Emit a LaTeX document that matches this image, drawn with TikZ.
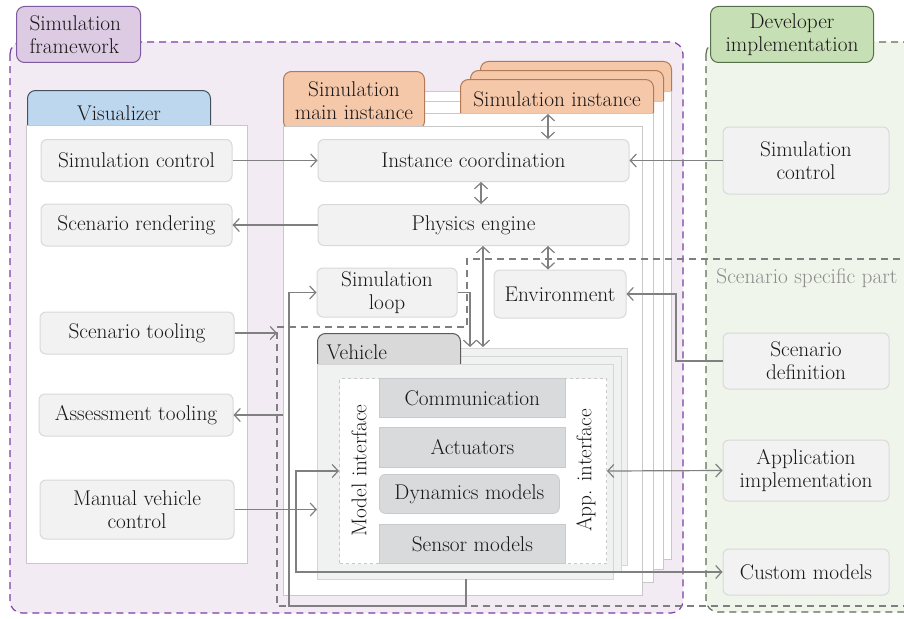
\documentclass[tikz,border=0pt]{standalone}
\usetikzlibrary{arrows.meta}
\definecolor{fwbg}{HTML}{F2EBF4}
\definecolor{fwline}{HTML}{7B3FA2}
\definecolor{fwtab}{HTML}{DCCBE3}
\definecolor{fwtabline}{HTML}{7E5A9E}
\definecolor{devbg}{HTML}{EFF5EA}
\definecolor{devline}{HTML}{5F6D52}
\definecolor{devtab}{HTML}{C6DFB4}
\definecolor{devtabline}{HTML}{56704B}
\definecolor{vistab}{HTML}{BDD7EE}
\definecolor{vistabline}{HTML}{44505C}
\definecolor{insttab}{HTML}{F5C8AA}
\definecolor{insttabline}{HTML}{B27A56}
\definecolor{nodef}{HTML}{F2F2F2}
\definecolor{nodeb}{HTML}{D9D9D9}
\definecolor{pageb}{HTML}{C8C8C8}
\definecolor{vehf}{HTML}{F0F1F1}
\definecolor{vehb}{HTML}{D6D6D6}
\definecolor{vehtabf}{HTML}{D9D9D9}
\definecolor{vehtabline}{HTML}{5A5A5A}
\definecolor{barf}{HTML}{D9DADB}
\definecolor{barb}{HTML}{C9CACB}
\definecolor{arrc}{HTML}{808080}
\definecolor{scnc}{HTML}{7F7F7F}
\definecolor{txt}{HTML}{1A1718}
\definecolor{scntxt}{HTML}{8C8C8C}
\begin{document}
\begin{tikzpicture}[x=1pt,y=-1pt,
  every node/.style={font=\fontsize{21.3}{23}\selectfont, text=txt},
  box/.style={draw=nodeb, fill=nodef, rounded corners=6pt, line width=1pt, align=center, inner sep=0pt},
  pg/.style={draw=pageb, fill=white, line width=1pt, inner sep=0pt, anchor=north west},
  vpg/.style={draw=vehb, fill=vehf, line width=1pt, inner sep=0pt, anchor=north west},
  tabst/.style={rounded corners=8pt, line width=1pt, anchor=north west, inner sep=0pt, align=center},
  bar/.style={draw=barb, fill=barf, line width=0.8pt, inner sep=0pt, anchor=north west},
  region/.style={dash pattern=on 7pt off 5pt, line width=1.2pt, rounded corners=12pt},
  arr/.style={draw=arrc, line width=1.2pt, -{Straight Barb[length=6pt,width=13pt]}},
  dbl/.style={draw=arrc, line width=1.2pt, {Straight Barb[length=6pt,width=13pt]}-{Straight Barb[length=6pt,width=13pt]}}
]
\useasboundingbox (0,0) rectangle (904,618);
\clip (0,0) rectangle (904,618);
\fill[white] (0,0) rectangle (904,618);

% regions
\draw[region, draw=fwline, fill=fwbg] (10,42) rectangle (683,613);
\draw[region, draw=devline, fill=devbg] (706,42) rectangle (930,612);

% region tabs
\node[tabst, draw=fwtabline, fill=fwtab, minimum width=124, minimum height=56, text width=98, inner xsep=13, align=left] (fwtab) at (16,6) {Simulation\\framework};
\node[tabst, draw=devtabline, fill=devtab, minimum width=163, minimum height=56] (devtab) at (710,6) {Developer\\implementation};

% visualizer
\node[tabst, draw=vistabline, fill=vistab, minimum width=183, minimum height=45] (vistab) at (27,90) {Visualizer};
\node[pg, minimum width=221, minimum height=438] (vis) at (26,125) {};

% simulation instance pages
\node[tabst, draw=insttabline, fill=insttab, minimum width=191, minimum height=38] (p3tab) at (480,61) {};
\node[pg, minimum width=380, minimum height=468] (p3) at (291,91) {};
\node[tabst, draw=insttabline, fill=insttab, minimum width=193, minimum height=38] (p2tab) at (470,70) {};
\node[pg, minimum width=375, minimum height=468] (p2) at (288,101) {};
\node[tabst, draw=insttabline, fill=insttab, minimum width=193, minimum height=40] (p1tab) at (460,79) {Simulation instance};
\node[pg, minimum width=368, minimum height=469] (p1) at (285,113) {};
\node[tabst, draw=insttabline, fill=insttab, minimum width=141, minimum height=58] (maintab) at (283,71) {Simulation\\main instance};
\node[pg, minimum width=359, minimum height=469] (mainpg) at (283,126) {};

% visualizer nodes
\node[box, minimum width=191, minimum height=42] (vsc) at (136.5,160.5) {Simulation control};
\node[box, minimum width=191, minimum height=42] (vsr) at (136.5,225) {Scenario rendering};
\node[box, minimum width=194, minimum height=42] (vst) at (137,333) {Scenario tooling};
\node[box, minimum width=194, minimum height=42] (vat) at (136,415) {Assessment tooling};
\node[box, minimum width=194, minimum height=59] (vmc) at (137,509.5) {Manual vehicle\\control};

% main instance nodes
\node[box, minimum width=311, minimum height=42] (ic) at (473.5,160.5) {Instance coordination};
\node[box, minimum width=311, minimum height=41] (pe) at (473.5,225) {Physics engine};
\node[box, minimum width=140, minimum height=49] (sl) at (387,292.5) {Simulation\\loop};
\node[box, minimum width=132, minimum height=48] (env) at (560,294) {Environment};

% developer nodes
\node[box, minimum width=166, minimum height=67] (dsc) at (806,160.5) {Simulation\\control};
\node[box, minimum width=166, minimum height=56] (dsd) at (806,361) {Scenario\\definition};
\node[box, minimum width=166, minimum height=61] (dai) at (806,470.5) {Application\\implementation};
\node[box, minimum width=166, minimum height=46] (dcm) at (806,572) {Custom models};

% vehicle stack
\node[vpg, minimum width=298, minimum height=217] (veh3) at (329,348) {};
\node[vpg, minimum width=298, minimum height=216] (veh2) at (323,356) {};
\node[tabst, draw=vehtabline, fill=vehtabf, minimum width=143, minimum height=38, text width=125, inner xsep=9, align=left] (vehtab) at (317,333) {Vehicle};
\node[vpg, minimum width=296, minimum height=215] (veh1) at (317,364) {};
\node[draw=pageb, fill=white, dashed, line width=1pt, inner sep=0pt, anchor=north west, minimum width=267, minimum height=185] (vframe) at (339,378) {};
\node[bar, minimum width=186, minimum height=39] (comm) at (379,378) {Communication};
\node[bar, minimum width=186, minimum height=40] (act) at (379,427) {Actuators};
\node[bar, rounded corners=6pt, minimum width=180, minimum height=39] (dyn) at (379,474) {Dynamics models};
\node[bar, minimum width=186, minimum height=39] (sens) at (379,524) {Sensor models};
\node[rotate=90] (mi) at (359,470.5) {Model interface};
\node[rotate=90] (ai) at (586,470.5) {App. interface};

% scenario specific part
\coordinate (scnL) at (277,327);
\draw[draw=scnc, dash pattern=on 7pt off 5pt, line width=1.2pt] (912,259) -- (467,259) -- (467,327) -- (scnL) -- (277,606) -- (912,606);
\node[text=scntxt, anchor=east] (scnlbl) at (901,278) {Scenario specific part};

% connectors
\draw[arr] (vsc.east) -- (ic.west);
\draw[arr] (pe.west) -- (vsr.east);
\draw[arr] (dsc.west) -- (ic.east);
\draw[dbl] ([xshift=7.5]ic.south) -- ([xshift=7.5]pe.north);
\coordinate (icu) at (548,114);
\draw[dbl] (icu) -- (icu |- ic.north);
\draw[dbl] ([xshift=-12]env.north) -- ([xshift=-12]env.north |- pe.south);
\coordinate (pev) at (483,347);
\draw[dbl] (pev |- pe.south) -- (pev);
\coordinate (slv) at (470,347);
\draw[arr] (sl.east) -| (slv);
\coordinate (vb) at (466,579);
\coordinate (lp) at (289,606);
\draw[arr] (vb) |- (lp) |- (sl.west);
\draw[arr] (vst.east) -- (vst.east -| scnL);
\draw[arr] (vat.east -| mainpg.west) -- (vat.east);
\draw[arr] (vmc.east) -- (vmc.east -| veh1.west);
\coordinate (cmx) at (296,572);
\draw[dbl] (dcm.west) -- (cmx) |- (vframe.west);
\draw[dbl] (vframe.east) -- (dai.west);
\coordinate (sdx) at (676,330);
\draw[arr] (dsd.west) -| (sdx) |- (env.east);
\end{tikzpicture}
\end{document}
